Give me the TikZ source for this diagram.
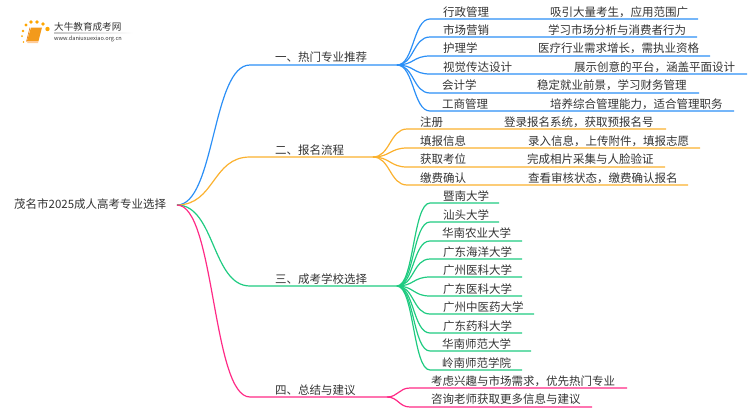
\documentclass[tikz,border=0pt]{standalone}
\usepackage{fontspec}
\setmainfont{Noto Sans CJK SC}
\definecolor{txtgray}{HTML}{333333}
\definecolor{blueline}{HTML}{2B8FF6}
\definecolor{orangeline}{HTML}{FBB12E}
\definecolor{greenline}{HTML}{1FCB81}
\definecolor{pinkline}{HTML}{FF2A86}
\definecolor{bookorange}{HTML}{F39A1B}
\tikzset{
  txt/.style={anchor=west,inner sep=0pt,text=txtgray,font=\fontsize{11.5}{12}\selectfont},
  bluebr/.style={draw=blueline,line width=1.2pt},
  orangebr/.style={draw=orangeline,line width=1.2pt},
  greenbr/.style={draw=greenline,line width=1.2pt},
  pinkbr/.style={draw=pinkline,line width=1.2pt},
  sundot/.style={fill=orange!70!yellow,draw=none}
}
\begin{document}
\begin{tikzpicture}[x=1pt,y=-1pt]
\useasboundingbox (0,0) rectangle (750,410);
\fill[sundot] (26,25) circle (1.7);
\fill[sundot] (31,22) circle (1.8);
\fill[sundot] (37,22) circle (1.9);
\fill[sundot] (43,24) circle (1.9);
\fill[sundot] (47.5,29) circle (2.2);
\fill[sundot] (23,31) circle (1.3);
\fill[sundot] (22,36) circle (1);
\fill[sundot] (23.5,42) circle (0.9);
\fill[bookorange] (31,27.5) -- (42,27.5) -- (38.5,41) -- (27,41) -- cycle;
\fill[orange!40!white] (27,41) -- (38.5,41) -- (38,43) -- (27.5,43) -- cycle;
\draw[orange!90!black,line width=0.5pt] (30,27.5) -- (26.5,41.5);
\shade[left color=gray!45,right color=white] (54,32.7) rectangle (133,33.4);
\node[txt,font=\fontsize{9.6}{10}\selectfont] (logoname) at (54,27) {大牛教育成考网};
\node[txt,font=\fontsize{5.6}{6}\selectfont] (logourl) at (54,38.6) {www.daniuxuexiao.org.cn};

\node[txt] (root) at (14,204) {茂名市2025成人高考专业选择};
\coordinate (hub) at (177,205);

\node[txt] (rm) at (275,57) {一、热门专业推荐};
\node[txt] (bm) at (275,150) {二、报名流程};
\node[txt] (xx) at (275,279) {三、成考学校选择};
\node[txt] (zj) at (275,390) {四、总结与建议};
\coordinate (rmS) at (250,65); \coordinate (rmH) at (397,65);
\coordinate (bmS) at (250,157); \coordinate (bmH) at (373,157);
\coordinate (xxS) at (250,286); \coordinate (xxH) at (397,286);
\coordinate (zjS) at (250,397); \coordinate (zjH) at (387,397);
\draw[bluebr] (hub) .. controls +(38,0) and +(-38,0) .. (rmS) -- (rmH);
\draw[orangebr] (hub) .. controls +(38,0) and +(-38,0) .. (bmS) -- (bmH);
\draw[greenbr] (hub) .. controls +(38,0) and +(-38,0) .. (xxS) -- (xxH);
\draw[pinkbr] (hub) .. controls +(38,0) and +(-38,0) .. (zjS) -- (zjH);

\node[txt] (rm1) at (443,12) {行政管理};
\node[txt] (rm1d) at (550,12) {吸引大量考生，应用范围广};
\node[txt] (rm2) at (443,30) {市场营销};
\node[txt] (rm2d) at (548,30) {学习市场分析与消费者行为};
\node[txt] (rm3) at (443,48) {护理学};
\node[txt] (rm3d) at (538,48) {医疗行业需求增长，需执业资格};
\node[txt] (rm4) at (443,67) {视觉传达设计};
\node[txt] (rm4d) at (574,67) {展示创意的平台，涵盖平面设计};
\node[txt] (rm5) at (442,85) {会计学};
\node[txt] (rm5d) at (537,85) {稳定就业前景，学习财务管理};
\node[txt] (rm6) at (442,104) {工商管理};
\node[txt] (rm6d) at (550,104) {培养综合管理能力，适合管理职务};
\coordinate (rm1s) at (430,19); \coordinate (rm1e) at (698,19);
\coordinate (rm2s) at (430,37); \coordinate (rm2e) at (697,37);
\coordinate (rm3s) at (430,56); \coordinate (rm3e) at (710,56);
\coordinate (rm4s) at (430,74); \coordinate (rm4e) at (747,74);
\coordinate (rm5s) at (430,93); \coordinate (rm5e) at (699,93);
\coordinate (rm6s) at (430,111); \coordinate (rm6e) at (734,111);
\draw[bluebr] (rmH) .. controls +(17,0) and +(-17,0) .. (rm1s) -- (rm1e);
\draw[bluebr] (rmH) .. controls +(17,0) and +(-17,0) .. (rm2s) -- (rm2e);
\draw[bluebr] (rmH) .. controls +(17,0) and +(-17,0) .. (rm3s) -- (rm3e);
\draw[bluebr] (rmH) .. controls +(17,0) and +(-17,0) .. (rm4s) -- (rm4e);
\draw[bluebr] (rmH) .. controls +(17,0) and +(-17,0) .. (rm5s) -- (rm5e);
\draw[bluebr] (rmH) .. controls +(17,0) and +(-17,0) .. (rm6s) -- (rm6e);

\node[txt] (bm1) at (420,122) {注册};
\node[txt] (bm1d) at (504,122) {登录报名系统，获取预报名号};
\node[txt] (bm2) at (420,141) {填报信息};
\node[txt] (bm2d) at (528,141) {录入信息，上传附件，填报志愿};
\node[txt] (bm3) at (420,159) {获取考位};
\node[txt] (bm3d) at (527,159) {完成相片采集与人脸验证};
\node[txt] (bm4) at (420,178) {缴费确认};
\node[txt] (bm4d) at (528,178) {查看审核状态，缴费确认报名};
\coordinate (bm1s) at (407,129); \coordinate (bm1e) at (666,129);
\coordinate (bm2s) at (407,148); \coordinate (bm2e) at (700,148);
\coordinate (bm3s) at (407,167); \coordinate (bm3e) at (665,167);
\coordinate (bm4s) at (407,185); \coordinate (bm4e) at (688,185);
\draw[orangebr] (bmH) .. controls +(17,0) and +(-17,0) .. (bm1s) -- (bm1e);
\draw[orangebr] (bmH) .. controls +(17,0) and +(-17,0) .. (bm2s) -- (bm2e);
\draw[orangebr] (bmH) .. controls +(17,0) and +(-17,0) .. (bm3s) -- (bm3e);
\draw[orangebr] (bmH) .. controls +(17,0) and +(-17,0) .. (bm4s) -- (bm4e);

\node[txt] (xx1) at (443,196) {暨南大学};
\node[txt] (xx2) at (443,215) {汕头大学};
\node[txt] (xx3) at (442,233) {华南农业大学};
\node[txt] (xx4) at (443,252) {广东海洋大学};
\node[txt] (xx5) at (443,270) {广州医科大学};
\node[txt] (xx6) at (443,289) {广东医科大学};
\node[txt] (xx7) at (443,307) {广州中医药大学};
\node[txt] (xx8) at (443,326) {广东药科大学};
\node[txt] (xx9) at (442,344) {华南师范大学};
\node[txt] (xx10) at (442,363) {岭南师范学院};
\coordinate (xx1s) at (430,203); \coordinate (xx1e) at (499,203);
\coordinate (xx2s) at (430,222); \coordinate (xx2e) at (499,222);
\coordinate (xx3s) at (430,241); \coordinate (xx3e) at (522,241);
\coordinate (xx4s) at (430,259); \coordinate (xx4e) at (522,259);
\coordinate (xx5s) at (430,277); \coordinate (xx5e) at (522,277);
\coordinate (xx6s) at (430,296); \coordinate (xx6e) at (522,296);
\coordinate (xx7s) at (430,314); \coordinate (xx7e) at (534,314);
\coordinate (xx8s) at (430,333); \coordinate (xx8e) at (522,333);
\coordinate (xx9s) at (430,351); \coordinate (xx9e) at (531,351);
\coordinate (xx10s) at (430,370); \coordinate (xx10e) at (522,370);
\draw[greenbr] (xxH) .. controls +(17,0) and +(-17,0) .. (xx1s) -- (xx1e);
\draw[greenbr] (xxH) .. controls +(17,0) and +(-17,0) .. (xx2s) -- (xx2e);
\draw[greenbr] (xxH) .. controls +(17,0) and +(-17,0) .. (xx3s) -- (xx3e);
\draw[greenbr] (xxH) .. controls +(17,0) and +(-17,0) .. (xx4s) -- (xx4e);
\draw[greenbr] (xxH) .. controls +(17,0) and +(-17,0) .. (xx5s) -- (xx5e);
\draw[greenbr] (xxH) .. controls +(17,0) and +(-17,0) .. (xx6s) -- (xx6e);
\draw[greenbr] (xxH) .. controls +(17,0) and +(-17,0) .. (xx7s) -- (xx7e);
\draw[greenbr] (xxH) .. controls +(17,0) and +(-17,0) .. (xx8s) -- (xx8e);
\draw[greenbr] (xxH) .. controls +(17,0) and +(-17,0) .. (xx9s) -- (xx9e);
\draw[greenbr] (xxH) .. controls +(17,0) and +(-17,0) .. (xx10s) -- (xx10e);

\node[txt] (zj1) at (431,381) {考虑兴趣与市场需求，优先热门专业};
\node[txt] (zj2) at (431,399) {咨询老师获取更多信息与建议};
\coordinate (zj1s) at (410,388); \coordinate (zj1e) at (627,388);
\coordinate (zj2s) at (410,407); \coordinate (zj2e) at (592,407);
\draw[pinkbr] (zjH) .. controls +(11,0) and +(-11,0) .. (zj1s) -- (zj1e);
\draw[pinkbr] (zjH) .. controls +(11,0) and +(-11,0) .. (zj2s) -- (zj2e);
\end{tikzpicture}
\end{document}
